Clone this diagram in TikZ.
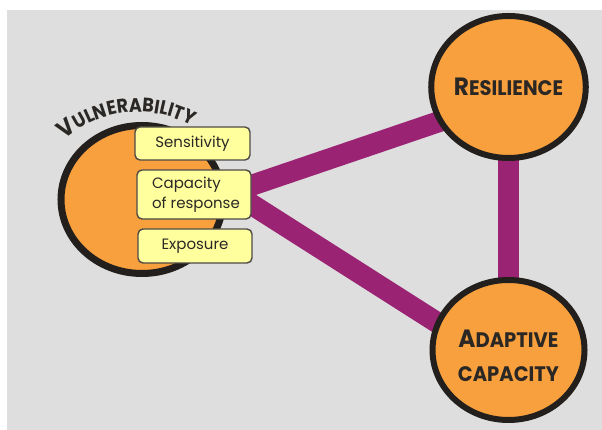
\documentclass[tikz,border=0pt]{standalone}
\usepackage{fontspec}
\setmainfont{Poppins}
\newfontfamily\headfont{Poppins}[FakeStretch=0.93]
\newfontfamily\arcfont{Poppins}[FakeStretch=0.9]
\usetikzlibrary{shapes.geometric,decorations.text}

\definecolor{bggray}{HTML}{DEDEDE}
\definecolor{orangefill}{HTML}{F8A03E}
\definecolor{rimdark}{HTML}{231F1C}
\definecolor{barpurple}{HTML}{9B2373}
\definecolor{boxfill}{HTML}{FFFF9E}
\definecolor{boxrim}{HTML}{4D4A45}
\definecolor{inkdark}{HTML}{2A2724}

% small-caps look built from two sizes of bold capitals
\newcommand\capbig{\headfont\bfseries\fontsize{25}{34}\selectfont}
\newcommand\capsmall{\headfont\bfseries\fontsize{21}{34}\selectfont}
\newcommand\arcbig{\arcfont\bfseries\fontsize{24}{24}\selectfont}
\newcommand\arcsmall{\arcfont\bfseries\fontsize{19.5}{20}\selectfont}

\begin{document}
\begin{tikzpicture}[x=1pt,y=1pt,
  hubnode/.style={ellipse, draw=rimdark, fill=orangefill, inner sep=0pt,
    text=inkdark, align=center},
  hubtext/.style={text=inkdark, align=center, inner sep=0pt},
  barline/.style={draw=barpurple, line width=21pt},
  tagbox/.style={draw=boxrim, line width=1.4pt, fill=boxfill, rounded corners=5pt,
    inner sep=0pt, text=inkdark, align=center,
    font=\fontsize{15}{20}\selectfont}]

% page and grey panel
\useasboundingbox (0,0) rectangle (602,430);
\fill[white] (0,0) rectangle (602,430);
\fill[bggray] (7,0) rectangle (602,420);

% circle centres and the point where the two slanted links meet
\coordinate (rc) at (508.5,343);
\coordinate (ac) at (508.5,80);
\coordinate (vc) at (142,230.5);
\coordinate (hub) at (232,238);

% purple links, drawn first so the circles cover their ends
\draw[barline] (rc) -- (ac);
\draw[barline] (hub) -- ([yshift=-11pt]rc);
\draw[barline] (hub) -- ([yshift=-18pt]ac);

% the three circles
\node[hubnode, line width=6pt, minimum width=152pt, minimum height=142pt]
  (res) at (rc) {{\capbig R}{\capsmall ESILIENCE}};
\node[hubnode, line width=6pt, minimum width=152pt, minimum height=140pt]
  (adp) at (ac) {};
\node[hubtext, font=\capsmall] (adptext) at ([yshift=-6pt]ac)
  {{\capbig A}{\capsmall DAPTIVE}\\{\capsmall CAPACITY}};
\node[hubnode, line width=7pt, minimum width=162pt, minimum height=148pt]
  (vul) at (vc) {};

% curved title over the left circle
\coordinate (arcc) at (138,207);
\path[decorate, decoration={text along path, text align=center,
    text color=inkdark,
    text={|\arcbig|V|\arcsmall|ULNERABILITY}}]
  ([shift={(146:111)}]arcc) arc (146:46:111);

% three labelled boxes
\node[tagbox, minimum width=115pt, minimum height=33pt] (sens) at (192.5,286.5) {Sensitivity};
\node[tagbox, minimum width=114pt, minimum height=49pt, align=left] (capr) at (194,235.5)
  {\hspace*{4pt}Capacity\\\hspace*{4pt}of response};
\node[tagbox, minimum width=114pt, minimum height=34pt] (expo) at (195,184) {Exposure};
\end{tikzpicture}
\end{document}
